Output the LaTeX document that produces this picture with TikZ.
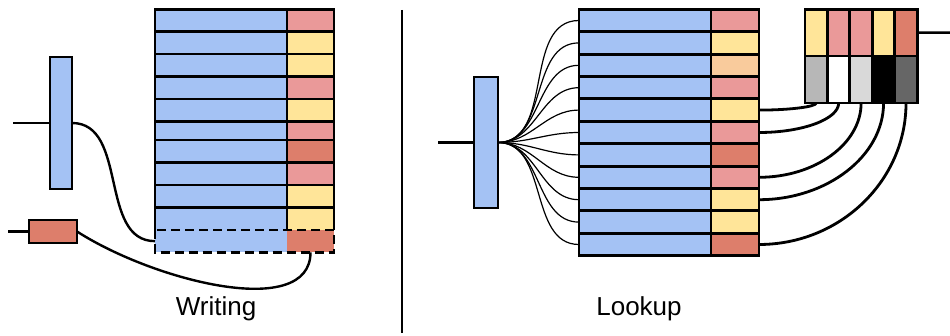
\documentclass[tikz,border=0pt]{standalone}
\usepackage{fontspec}
\setmainfont{Liberation Sans}
\definecolor{cblue}{HTML}{A4C2F4}
\definecolor{cpink}{HTML}{EA9999}
\definecolor{cyel}{HTML}{FFE599}
\definecolor{cdark}{HTML}{DD7E6B}
\definecolor{corange}{HTML}{F9CB9C}
\definecolor{cgray}{HTML}{B7B7B7}
\definecolor{clgray}{HTML}{D9D9D9}
\definecolor{cdgray}{HTML}{666666}
\tikzset{
  cell/.style={rectangle, anchor=north west, inner sep=0pt, outer sep=0pt},
  tbl/.style={line width=2.9pt},
  wire/.style={line width=2.4pt},
  fanwire/.style={line width=1.2pt},
  conn/.style={line width=2.8pt},
  lbl/.style={font=\fontsize{26}{30}\selectfont, anchor=base, inner sep=0pt}
}
\begin{document}
\begin{tikzpicture}[x=1pt,y=-1pt]
\useasboundingbox (0,0) rectangle (950,336);

% ---------- Writing (left) ----------
\foreach \i/\t/\h/\c in {1/9.3/22.4/cpink, 2/31.7/22.3/cyel, 3/54/22.7/cyel, 4/76.7/22.3/cpink, 5/99/22.3/cyel, 6/121.3/18.7/cpink, 7/140/22.7/cdark, 8/162.7/22.3/cpink, 9/185/22.3/cyel, 10/207.3/22.7/cyel, 11/230/22.3/cdark} {
  \node[cell, fill=cblue, minimum width=132pt, minimum height=\h pt] (Lb\i) at (155,\t) {};
  \node[cell, fill=\c, minimum width=47pt, minimum height=\h pt] (Lr\i) at (287,\t) {};
}
\draw[tbl] (Lb10.south west) -- (Lb1.north west) -- (Lr1.north east) -- (Lr10.south east);
\foreach \i in {1,...,9} \draw[tbl] (Lb\i.south west) -- (Lr\i.south east);
\draw[tbl] (Lr1.north west) -- (Lr10.south west);
\draw[tbl, dash pattern=on 9pt off 5pt] (Lb11.north west) rectangle (Lr11.south east);

\node[cell, draw, tbl, fill=cblue, minimum width=22pt, minimum height=132pt] (barL) at (50,57) {};
\node[cell, draw, tbl, fill=cdark, minimum width=48pt, minimum height=23pt] (redbox) at (29,220) {};
\coordinate (inL) at (13,123);
\coordinate (inRed) at (8,231.5);
\draw[wire] (inL) -- (barL.west);
\draw[wire] (inRed) -- (redbox.west);
\draw[wire] (barL.east) to[out=0,in=180] (Lb11.west);
\draw[wire] (redbox.east) .. controls +(78,50) and +(0,68) .. (Lr11.south);
\node[lbl] (wlabel) at (216,316) {Writing};

% ---------- divider ----------
\coordinate (d1) at (402,10);
\coordinate (d2) at (402,333);
\draw[line width=2.5pt] (d1) -- (d2);

% ---------- Lookup (right) ----------
\foreach \i/\c in {1/cpink,2/cyel,3/corange,4/cpink,5/cyel,6/cpink,7/cdark,8/cpink,9/cyel,10/cyel,11/cdark} {
  \pgfmathsetmacro\t{9.3+22.4*(\i-1)}
  \node[cell, draw, tbl, fill=cblue, minimum width=132pt, minimum height=22.4pt] (Rb\i) at (579,\t) {};
  \node[cell, draw, tbl, fill=\c, minimum width=48pt, minimum height=22.4pt] (Rr\i) at (711,\t) {};
}
\node[cell, draw, tbl, fill=cblue, minimum width=24pt, minimum height=131pt] (barR) at (474,77) {};
\coordinate (inR) at (438,142.5);
\draw[wire] (inR) -- (barR.west);
\foreach \i in {1,...,11} \draw[fanwire] (barR.east) to[out=0,in=180] (Rb\i.west);

\foreach \i/\ct/\cb in {1/cyel/cgray, 2/cpink/white, 3/cpink/clgray, 4/cyel/black, 5/cdark/cdgray} {
  \pgfmathsetmacro\x{805+22.45*(\i-1)}
  \node[cell, draw, tbl, fill=\ct, minimum width=22.45pt, minimum height=46.7pt] (Bt\i) at (\x,9.3) {};
  \node[cell, draw, tbl, fill=\cb, minimum width=22.45pt, minimum height=47pt] (Bb\i) at (\x,56) {};
}
\coordinate (outB) at (950,32.7);
\draw[wire] (Bt5.east) -- (outB);

\draw[conn] (Rr5.east) .. controls +(31,0) and +(0,3.7) .. (Bb1.south);
\draw[conn] (Rr6.east) .. controls +(44,0) and +(0,16) .. (Bb2.south);
\draw[conn] (Rr8.east) .. controls +(56,0) and +(0,41) .. (Bb3.south);
\draw[conn] (Rr9.east) .. controls +(68,0) and +(0,53) .. (Bb4.south);
\draw[conn] (Rr11.east) .. controls +(81,0) and +(0,78) .. (Bb5.south);

\node[lbl] (llabel) at (639,316) {Lookup};
\end{tikzpicture}
\end{document}
